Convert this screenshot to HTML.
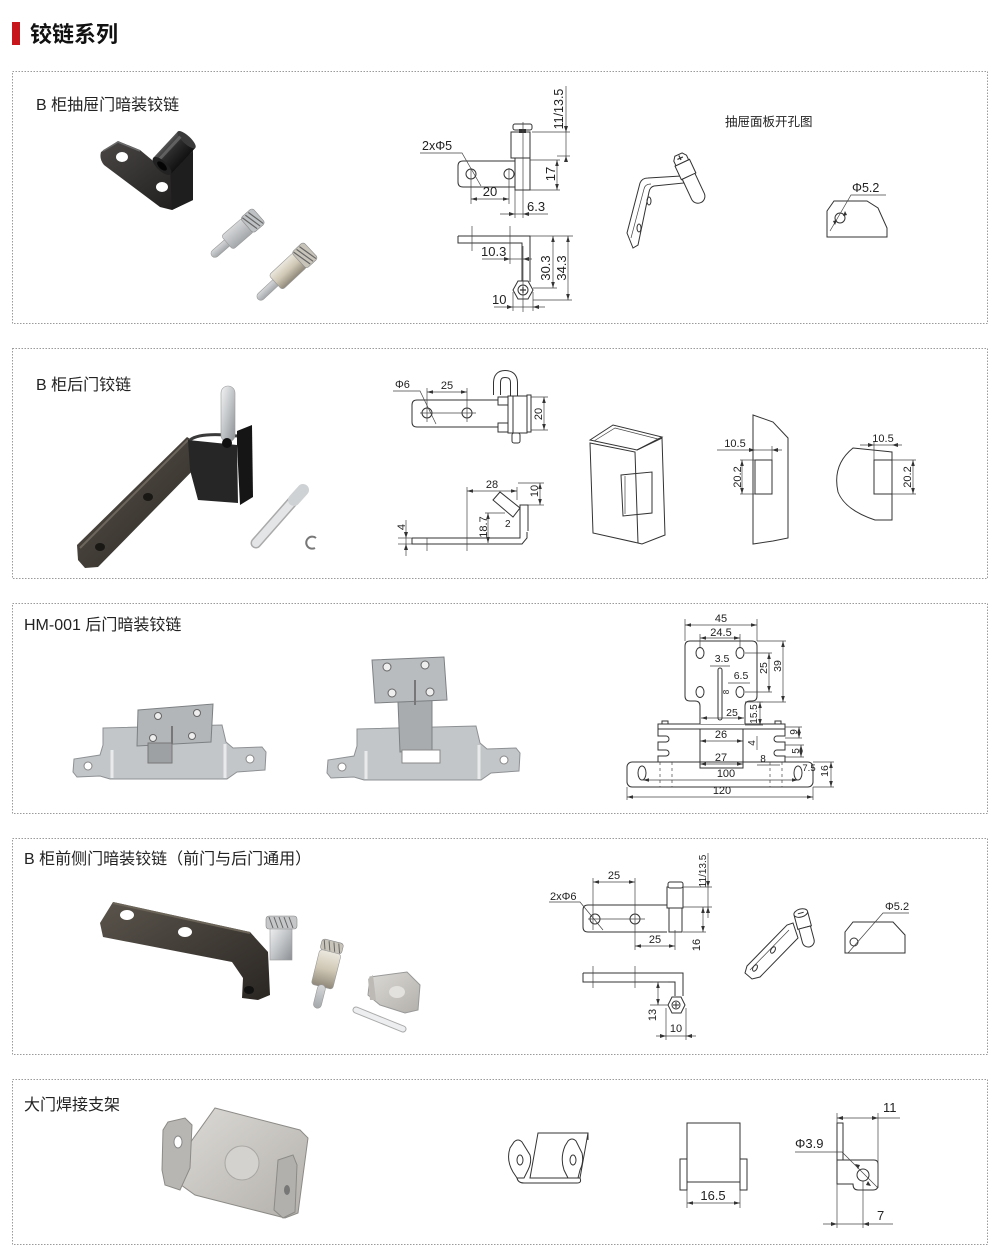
<!DOCTYPE html>
<html><head><meta charset="utf-8">
<style>
html,body{margin:0;padding:0;background:#fff;}
svg{display:block;}
text{font-family:"Liberation Sans","Noto Sans CJK SC",sans-serif;fill:#222;}
.d{fill:none;stroke:#333;stroke-width:1;}
.dt{fill:none;stroke:#444;stroke-width:0.7;}
.ar{fill:none;stroke:#444;stroke-width:0.7;marker-start:url(#a);marker-end:url(#a);}
.f{fill:#fff;stroke:#333;stroke-width:1;}
.bx{fill:none;stroke:#9a9a9a;stroke-width:1;stroke-dasharray:1.5 1.5;}
</style></head><body>
<svg width="1000" height="1248" viewBox="0 0 1000 1248">
<defs>
<marker id="a" viewBox="0 0 10 6" refX="10" refY="3" markerWidth="6" markerHeight="3.6" markerUnits="userSpaceOnUse" orient="auto-start-reverse"><path d="M0,0 L10,3 L0,6z" fill="#333"/></marker>
<linearGradient id="sv" x1="0" y1="0" x2="1" y2="1"><stop offset="0" stop-color="#f2f3f4"/><stop offset="0.5" stop-color="#c2c5c8"/><stop offset="1" stop-color="#8c9094"/></linearGradient>
<linearGradient id="sv2" x1="0" y1="0" x2="0" y2="1"><stop offset="0" stop-color="#d6d8da"/><stop offset="1" stop-color="#a4a7aa"/></linearGradient>
<linearGradient id="gd" x1="0" y1="0" x2="0" y2="1"><stop offset="0" stop-color="#ece8de"/><stop offset="0.5" stop-color="#cfc7b4"/><stop offset="1" stop-color="#8f887a"/></linearGradient>
<linearGradient id="dk" x1="0" y1="0" x2="1" y2="1"><stop offset="0" stop-color="#4a4745"/><stop offset="1" stop-color="#1c1b1a"/></linearGradient>
<linearGradient id="cy" x1="0" y1="0" x2="0" y2="1"><stop offset="0" stop-color="#555"/><stop offset="0.35" stop-color="#2c2c2c"/><stop offset="1" stop-color="#111"/></linearGradient>
<linearGradient id="br" x1="0" y1="0" x2="1" y2="1"><stop offset="0" stop-color="#5a544c"/><stop offset="1" stop-color="#2a2622"/></linearGradient>
<linearGradient id="pl" x1="0" y1="0" x2="1" y2="1"><stop offset="0" stop-color="#dcdad6"/><stop offset="1" stop-color="#b3b0ab"/></linearGradient>
</defs>

<!-- Title -->
<rect x="12" y="22" width="8" height="23" fill="#c8161d"/>
<text x="30" y="42" font-size="22" font-weight="bold" style="fill:#111">铰链系列</text>

<!-- Panels -->
<rect class="bx" x="12.5" y="71.5" width="975" height="252"/>
<rect class="bx" x="12.5" y="348.5" width="975" height="230"/>
<rect class="bx" x="12.5" y="603.5" width="975" height="210"/>
<rect class="bx" x="12.5" y="838.5" width="975" height="216"/>
<rect class="bx" x="12.5" y="1079.5" width="975" height="165"/>

<text x="36" y="110" font-size="16">B 柜抽屉门暗装铰链</text>
<text x="36" y="390" font-size="16">B 柜后门铰链</text>
<text x="24" y="630" font-size="16">HM-001 后门暗装铰链</text>
<text x="24" y="864" font-size="16">B 柜前侧门暗装铰链（前门与后门通用）</text>
<text x="24" y="1110" font-size="16">大门焊接支架</text>

<!-- ================= PANEL 1 ================= -->
<!-- photo: black bracket -->
<path d="M101,152 L118,141 L140,150 L158,165 L170,165 L193,150 L193,200 L172,210 L160,207 L104,165 Q99,159 101,152Z" fill="url(#dk)"/>
<path d="M170,167 L193,152 L193,200 L172,210Z" fill="#1e1e1e"/>
<path d="M103,151 L118,142 L140,151" stroke="#6a6a6a" stroke-width="1.5" fill="none"/>
<ellipse cx="122" cy="157" rx="6" ry="5" fill="#fff"/>
<ellipse cx="162" cy="187" rx="6" ry="5" fill="#fff"/>
<g transform="translate(162,166) rotate(-47)">
<rect x="0" y="-12" width="36" height="24" fill="url(#cy)"/>
<ellipse cx="36" cy="0" rx="4" ry="12" fill="#3a3a3a"/>
<rect x="4" y="-8" width="30" height="3" fill="#6a6a6a" opacity="0.8"/>
<ellipse cx="0" cy="0" rx="5" ry="12" fill="#222"/>
<ellipse cx="0" cy="0" rx="3" ry="6" fill="#050505"/>
</g>
<!-- pin 1 -->
<g transform="translate(212,256) rotate(-41)">
<rect x="0" y="-4" width="24" height="8" rx="4" fill="url(#sv2)" stroke="#999" stroke-width="0.6"/>
<rect x="20" y="-9" width="28" height="18" rx="3" fill="url(#sv2)" stroke="#999" stroke-width="0.6"/>
<rect x="46" y="-10" width="16" height="20" rx="3" fill="#bfc2c4" stroke="#888" stroke-width="0.6"/>
<path d="M48,-9 L52,9 M52,-9 L56,9 M56,-9 L60,9" stroke="#666" stroke-width="1.2"/>
</g>
<!-- pin 2 -->
<g transform="translate(258,299) rotate(-43)">
<rect x="0" y="-4" width="28" height="8" rx="4" fill="url(#sv2)" stroke="#999" stroke-width="0.6"/>
<rect x="24" y="-10" width="34" height="20" rx="3" fill="url(#gd)" stroke="#999" stroke-width="0.6"/>
<rect x="56" y="-11" width="16" height="22" rx="3" fill="#c8c4ba" stroke="#888" stroke-width="0.6"/>
<path d="M58,-10 L62,10 M62,-10 L66,10 M66,-10 L70,10" stroke="#666" stroke-width="1.2"/>
</g>

<!-- drawing top view -->
<path class="d" d="M515,161 H463 Q458,161 458,166 V182 Q458,187 463,187 H515"/>
<circle class="d" cx="471" cy="174" r="5"/>
<circle class="d" cx="509" cy="174" r="5"/>
<rect class="f" x="515" y="157" width="15" height="33"/>
<rect class="f" x="511" y="132" width="19" height="26"/>
<rect x="513" y="124" width="19" height="6" rx="2" fill="#fff" stroke="#333"/>
<rect x="519" y="129" width="7" height="4" fill="#333"/>
<line class="dt" x1="523" y1="122" x2="523" y2="218"/>
<line class="dt" x1="471" y1="168" x2="471" y2="204"/>
<line class="dt" x1="509" y1="168" x2="509" y2="204"/>
<line class="ar" x1="471" y1="199" x2="509" y2="199"/>
<text x="490" y="196" font-size="13" text-anchor="middle">20</text>
<text x="422" y="150" font-size="12.5">2xΦ5</text>
<polyline class="dt" points="420,153 462,153 481,186"/>
<line class="dt" x1="515" y1="190" x2="515" y2="218"/>
<line class="dt" x1="500" y1="214" x2="548" y2="214"/>
<path d="M515,214 l-6,-2 v4z M523,214 l6,-2 v4z" fill="#333"/>
<text x="527" y="211" font-size="13">6.3</text>
<line class="dt" x1="530" y1="160" x2="560" y2="160"/>
<line class="dt" x1="530" y1="190" x2="560" y2="190"/>
<line class="ar" x1="557" y1="160" x2="557" y2="190"/>
<text transform="translate(555,174) rotate(-90)" font-size="13" text-anchor="middle">17</text>
<line class="dt" x1="532" y1="132" x2="570" y2="132"/>
<line class="dt" x1="557" y1="156" x2="570" y2="156"/>
<line class="dt" x1="566" y1="86" x2="566" y2="158"/>
<path d="M566,132 l-2,-6 h4z M566,156 l-2,6 h4z" fill="#333"/>
<text transform="translate(563,109) rotate(-90)" font-size="12.5" text-anchor="middle">11/13.5</text>

<!-- side view -->
<path class="d" d="M458,236 H530 V282 M458,236 V243 H522 V282"/>
<polygon class="f" points="513,290 518,281 528,281 533,290 528,299 518,299"/>
<circle class="d" cx="523" cy="290" r="5"/>
<path d="M520,290 h6 M523,287 v6" stroke="#333" stroke-width="1.2"/>
<line class="dt" x1="472" y1="226" x2="472" y2="251"/>
<line class="dt" x1="510" y1="226" x2="510" y2="264"/>
<line class="dt" x1="523" y1="246" x2="523" y2="312"/>
<line class="dt" x1="482" y1="259" x2="532" y2="259"/>
<path d="M510,259 l-6,-2 v4z M523,259 l6,-2 v4z" fill="#333"/>
<text x="481" y="256" font-size="13">10.3</text>
<line class="dt" x1="530" y1="236" x2="573" y2="236"/>
<line class="dt" x1="533" y1="288" x2="557" y2="288"/>
<line class="dt" x1="533" y1="300" x2="572" y2="300"/>
<line class="ar" x1="553" y1="236" x2="553" y2="288"/>
<line class="ar" x1="568" y1="236" x2="568" y2="300"/>
<text transform="translate(550,268) rotate(-90)" font-size="13" text-anchor="middle">30.3</text>
<text transform="translate(566,268) rotate(-90)" font-size="13" text-anchor="middle">34.3</text>
<line class="dt" x1="513" y1="292" x2="513" y2="311"/>
<line class="dt" x1="533" y1="292" x2="533" y2="311"/>
<line class="dt" x1="494" y1="307" x2="545" y2="307"/>
<path d="M513,307 l-6,-2 v4z M533,307 l6,-2 v4z" fill="#333"/>
<text x="492" y="304" font-size="13">10</text>

<!-- perspective sketch -->
<text x="725" y="126" font-size="12.5">抽屉面板开孔图</text>
<path class="d" d="M633,248 L627,233 L640,183 Q642,178 648,178 L681,176 L684,183 L654,186 Q650,187 649,192 L638,245 Z"/>
<path class="dt" d="M631,238 L644,189 Q645,184 651,184"/>
<ellipse class="d" cx="649" cy="201" rx="2" ry="4"/>
<ellipse class="d" cx="639" cy="228" rx="2" ry="4"/>
<g transform="translate(681,160) rotate(-25)">
<rect class="f" x="-8" y="3" width="16" height="15"/>
<path class="f" d="M-7,18 V40 A7,7 0 0 0 7,40 V18 Z"/>
<polygon class="f" points="-7,-2 -4,-6 4,-6 7,-2 7,3 -7,3"/>
<path d="M-3,-2 h6 M0,-5 v5" stroke="#333" stroke-width="1.2"/>
</g>
<!-- hole sketch -->
<path class="d" d="M827,237 V211 L834,201 H867 L878,208 L887,228 V237 Z"/>
<circle class="d" cx="840" cy="218" r="5"/>
<text x="852" y="192" font-size="12.5">Φ5.2</text>
<polyline class="dt" points="886,195 851,195 830,231"/>
<path d="M845,211 l-2,5 l4,-1z M835,225 l2,-5 l-4,1z" fill="#333"/>

<!-- ================= PANEL 2 ================= -->
<!-- photo -->
<path d="M77,545 L187,437 L203,447 L205,458 L98,567 L85,568 L78,560Z" fill="url(#br)"/>
<path d="M80,548 L188,440" stroke="#6d665d" stroke-width="2"/>
<ellipse cx="148" cy="497" rx="5" ry="4" fill="#1a1815"/>
<ellipse cx="100" cy="547" rx="5" ry="4" fill="#1a1815"/>
<path d="M188,440 L237,445 L238,503 L198,500 L190,470Z" fill="#262626"/>
<path d="M237,431 L252,425 L253,497 L240,505 L237,445Z" fill="#151515"/>
<path d="M190,440 Q200,432 237,436" stroke="#3a3a3a" stroke-width="3" fill="none"/>
<rect x="221" y="386" width="14" height="56" rx="7" fill="url(#sv)" stroke="#999" stroke-width="0.6"/>
<circle cx="227" cy="443" r="5" fill="#0f0f0f"/>
<line x1="256" y1="543" x2="300" y2="493" stroke="#aaa" stroke-width="11" stroke-linecap="round"/>
<line x1="256" y1="543" x2="300" y2="493" stroke="#e3e5e7" stroke-width="8" stroke-linecap="round"/>
<line x1="294" y1="500" x2="303" y2="490" stroke="#cfd2d4" stroke-width="12" stroke-linecap="round"/>
<path d="M316,538 A6,6 0 1 0 315,548" stroke="#777" stroke-width="2" fill="none"/>

<!-- drawing top view -->
<path class="d" d="M503,400 H417 Q412,400 412,405 V422 Q412,427 417,427 H503"/>
<circle class="d" cx="427" cy="413" r="5"/>
<circle class="d" cx="467" cy="413" r="5"/>
<line class="dt" x1="427" y1="388" x2="427" y2="422"/>
<line class="dt" x1="467" y1="388" x2="467" y2="422"/>
<line class="dt" x1="420" y1="413" x2="476" y2="413"/>
<path d="M497,395 V383 Q497,374 505,374 Q514,374 514,383 V397" fill="none" stroke="#333" stroke-width="8"/>
<path d="M497,395 V383 Q497,374 505,374 Q514,374 514,383 V397" fill="none" stroke="#fff" stroke-width="6"/>
<rect class="f" x="498" y="397" width="10" height="8"/>
<rect class="f" x="498" y="423" width="10" height="9"/>
<rect class="f" x="508" y="396" width="19" height="37"/>
<rect class="f" x="513" y="396" width="14" height="37"/>
<rect class="f" x="527" y="395" width="4" height="37"/>
<rect class="f" x="512" y="433" width="8" height="10" rx="2"/>
<text x="395" y="388" font-size="11">Φ6</text>
<polyline class="dt" points="393,391 420,391 436,424"/>
<line class="ar" x1="427" y1="392" x2="467" y2="392"/>
<text x="447" y="389" font-size="11" text-anchor="middle">25</text>
<line class="dt" x1="531" y1="397" x2="548" y2="397"/>
<line class="dt" x1="531" y1="430" x2="548" y2="430"/>
<line class="ar" x1="544" y1="397" x2="544" y2="430"/>
<text transform="translate(542,414) rotate(-90)" font-size="11" text-anchor="middle">20</text>

<!-- side view -->
<path class="d" d="M412,538 H520 V505 H528 V531 M412,538 V544 H522 L527,538 V532"/>
<polygon class="f" points="493,500 500,492 520,508 513,517"/>
<line class="dt" x1="467" y1="487" x2="467" y2="551"/>
<line class="dt" x1="427" y1="538" x2="427" y2="551"/>
<line class="dt" x1="517" y1="487" x2="517" y2="500"/>
<line class="ar" x1="467" y1="491" x2="517" y2="491"/>
<text x="492" y="488" font-size="11" text-anchor="middle">28</text>
<line class="dt" x1="528" y1="505" x2="544" y2="505"/>
<line class="dt" x1="518" y1="483" x2="544" y2="483"/>
<line class="ar" x1="540" y1="483" x2="540" y2="505"/>
<text transform="translate(538,491) rotate(-90)" font-size="11" text-anchor="middle">10</text>
<line class="dt" x1="485" y1="513" x2="505" y2="513"/>
<line class="ar" x1="488" y1="513" x2="488" y2="543"/>
<text transform="translate(487,527) rotate(-90)" font-size="11" text-anchor="middle">18.7</text>
<text x="505" y="527" font-size="10">2</text>
<line class="dt" x1="398" y1="538" x2="412" y2="538"/>
<line class="dt" x1="398" y1="544" x2="412" y2="544"/>
<line class="dt" x1="406" y1="520" x2="406" y2="556"/>
<path d="M406,538 l-2,-6 h4z M406,544 l-2,6 h4z" fill="#333"/>
<text transform="translate(405,527) rotate(-90)" font-size="11" text-anchor="middle">4</text>

<!-- 3D box -->
<path class="d" d="M590,440 L613,425 L662,437 L637,450 Z"/>
<path class="d" d="M590,443 L635,452 L638,543 L593,533 Z"/>
<path class="d" d="M637,450 L662,438 L665,535 L642,544 L638,543"/>
<path class="dt" d="M594,441 L615,428 L658,439"/>
<path class="d" d="M621,475 L652,472 L652,513 L623,516 Z"/>
<path class="dt" d="M625,476 V514"/>
<!-- panel view 2 -->
<path class="d" d="M753,415 L773,422 L788,438 V538 L773,541 L753,544 Z"/>
<rect class="d" x="755" y="460" width="17" height="34"/>
<line class="dt" x1="772" y1="446" x2="772" y2="460"/>
<line class="dt" x1="717" y1="450" x2="782" y2="450"/>
<path d="M755,450 l-6,-2 v4z M772,450 l6,-2 v4z" fill="#333"/>
<text x="735" y="447" font-size="11" text-anchor="middle">10.5</text>
<line class="dt" x1="740" y1="460" x2="755" y2="460"/>
<line class="dt" x1="740" y1="494" x2="755" y2="494"/>
<line class="ar" x1="742" y1="460" x2="742" y2="494"/>
<text transform="translate(741,477) rotate(-90)" font-size="11" text-anchor="middle">20.2</text>
<!-- panel view 3 -->
<path class="d" d="M853,448 L892,452 V520 H875 Q845,510 838,492 Q832,465 853,448 Z"/>
<rect class="d" x="874" y="460" width="18" height="34"/>
<line class="dt" x1="874" y1="442" x2="874" y2="460"/>
<line class="dt" x1="860" y1="445" x2="902" y2="445"/>
<path d="M874,445 l-6,-2 v4z M892,445 l6,-2 v4z" fill="#333"/>
<text x="883" y="442" font-size="11" text-anchor="middle">10.5</text>
<line class="dt" x1="892" y1="460" x2="916" y2="460"/>
<line class="dt" x1="892" y1="494" x2="916" y2="494"/>
<line class="ar" x1="913" y1="460" x2="913" y2="494"/>
<text transform="translate(911,477) rotate(-90)" font-size="11" text-anchor="middle">20.2</text>

<!-- ================= PANEL 3 ================= -->
<!-- photo 1 -->
<path d="M103,728 L222,725 L226,742 L233,748 L262,747 L266,752 L265,770 L237,772 L227,779 L110,779 L100,776 L77,777 L73,772 L74,759 L100,755 L103,745Z" fill="#c3c6c9" stroke="#8e9194"/>
<path d="M112,750 V778 M225,744 V778" stroke="#e8eaeb" stroke-width="3"/>
<circle cx="88" cy="766" r="4" fill="#fff" stroke="#888"/>
<circle cx="250" cy="759" r="4" fill="#fff" stroke="#888"/>
<polygon points="138,710 213,704 211,742 137,746" fill="#b3b6b9" stroke="#7d8083"/>
<circle cx="158" cy="716" r="3.5" fill="#eee" stroke="#666"/>
<circle cx="197" cy="713" r="3.5" fill="#eee" stroke="#666"/>
<circle cx="153" cy="738" r="3.5" fill="#eee" stroke="#666"/>
<circle cx="192" cy="736" r="3.5" fill="#eee" stroke="#666"/>
<rect x="148" y="743" width="24" height="20" fill="#9ea1a4" stroke="#777"/>
<line x1="172" y1="726" x2="172" y2="744" stroke="#777" stroke-width="2"/>
<!-- photo 2 -->
<path d="M357,729 L476,726 L480,743 L487,749 L516,748 L520,753 L519,771 L491,773 L481,780 L364,780 L354,777 L331,778 L327,773 L328,760 L354,756 L357,746Z" fill="#c3c6c9" stroke="#8e9194"/>
<path d="M366,751 V779 M479,745 V779" stroke="#e8eaeb" stroke-width="3"/>
<circle cx="342" cy="767" r="4" fill="#fff" stroke="#888"/>
<circle cx="504" cy="760" r="4" fill="#fff" stroke="#888"/>
<polygon points="398,702 432,700 432,750 400,752" fill="#a9acaf" stroke="#7d8083"/>
<polygon points="372,660 444,657 447,700 375,703" fill="#b9bcbf" stroke="#7d8083"/>
<circle cx="387" cy="667" r="4" fill="#eee" stroke="#666"/>
<circle cx="425" cy="665" r="4" fill="#eee" stroke="#666"/>
<circle cx="392" cy="693" r="4" fill="#eee" stroke="#666"/>
<circle cx="430" cy="692" r="4" fill="#eee" stroke="#666"/>
<line x1="415" y1="680" x2="415" y2="705" stroke="#777" stroke-width="2"/>
<rect x="402" y="750" width="38" height="13" fill="#fff" stroke="#888"/>

<!-- drawing -->
<rect class="d" x="627" y="762" width="186" height="25" rx="5"/>
<ellipse class="d" cx="642" cy="773" rx="4" ry="7"/>
<ellipse class="d" cx="798" cy="773" rx="4" ry="7"/>
<path class="dt" stroke-dasharray="3 3" d="M660,762 V787 M672,762 V787 M770,762 V787 M782,762 V787"/>
<path class="d" d="M658,729 V736 H666 A3,3 0 0 1 666,742 H658 V750 H666 A3,3 0 0 1 666,756 H658 V762"/>
<path class="d" d="M785,729 V736 H777 A3,3 0 0 0 777,742 H785 V750 H777 A3,3 0 0 0 777,756 H785 V762"/>
<rect class="d" x="658" y="724" width="127" height="5"/>
<rect class="f" x="662" y="721" width="6" height="3"/>
<rect class="f" x="775" y="721" width="6" height="3"/>
<rect class="d" x="700" y="729" width="43" height="39"/>
<path class="f" d="M700,724 V706 Q700,701 695,701 H690 Q685,701 685,696 V646 Q685,641 690,641 H752 Q757,641 757,646 V696 Q757,701 752,701 H750 Q745,701 745,706 V724"/>
<ellipse class="d" cx="700" cy="653" rx="4" ry="5.5"/>
<ellipse class="d" cx="740" cy="653" rx="4" ry="5.5"/>
<ellipse class="d" cx="700" cy="692" rx="4" ry="5.5"/>
<ellipse class="d" cx="740" cy="692" rx="4" ry="5.5"/>
<rect class="d" x="718" y="668" width="4" height="52" rx="2"/>
<!-- dims -->
<line class="dt" x1="685" y1="619" x2="685" y2="641"/>
<line class="dt" x1="757" y1="619" x2="757" y2="641"/>
<line class="ar" x1="685" y1="625" x2="757" y2="625"/>
<text x="721" y="622" font-size="11" text-anchor="middle">45</text>
<line class="dt" x1="700" y1="634" x2="700" y2="648"/>
<line class="dt" x1="740" y1="634" x2="740" y2="648"/>
<line class="ar" x1="700" y1="638" x2="740" y2="638"/>
<text x="721" y="636" font-size="11" text-anchor="middle">24.5</text>
<text x="722" y="662" font-size="10.5" text-anchor="middle">3.5</text>
<line class="dt" x1="710" y1="666" x2="730" y2="666"/>
<text x="741" y="679" font-size="10.5" text-anchor="middle">6.5</text>
<line class="dt" x1="728" y1="683" x2="750" y2="683"/>
<text transform="translate(729,692) rotate(-90)" font-size="8" text-anchor="middle">8</text>
<text x="732" y="716" font-size="10.5" text-anchor="middle">25</text>
<line class="ar" x1="701" y1="718" x2="744" y2="718"/>
<line class="dt" x1="745" y1="702" x2="763" y2="702"/>
<line class="dt" x1="745" y1="725" x2="763" y2="725"/>
<line class="ar" x1="760" y1="702" x2="760" y2="725"/>
<text transform="translate(757,714) rotate(-90)" font-size="10" text-anchor="middle">15.5</text>
<line class="dt" x1="745" y1="653" x2="772" y2="653"/>
<line class="dt" x1="745" y1="692" x2="772" y2="692"/>
<line class="ar" x1="769" y1="653" x2="769" y2="692"/>
<text transform="translate(767,668) rotate(-90)" font-size="10.5" text-anchor="middle">25</text>
<line class="dt" x1="757" y1="641" x2="786" y2="641"/>
<line class="dt" x1="757" y1="702" x2="786" y2="702"/>
<line class="ar" x1="783" y1="641" x2="783" y2="702"/>
<text transform="translate(781,666) rotate(-90)" font-size="10.5" text-anchor="middle">39</text>
<line class="ar" x1="700" y1="741" x2="743" y2="741"/>
<text x="721" y="738" font-size="11" text-anchor="middle">26</text>
<line class="ar" x1="700" y1="764" x2="743" y2="764"/>
<text x="721" y="761" font-size="11" text-anchor="middle">27</text>
<line class="ar" x1="643" y1="780" x2="798" y2="780"/>
<text x="726" y="777" font-size="11" text-anchor="middle">100</text>
<line class="dt" x1="627" y1="787" x2="627" y2="800"/>
<line class="dt" x1="813" y1="787" x2="813" y2="800"/>
<line class="ar" x1="627" y1="797" x2="813" y2="797"/>
<text x="722" y="794" font-size="11" text-anchor="middle">120</text>
<line class="dt" x1="785" y1="727" x2="802" y2="727"/>
<line class="dt" x1="785" y1="738" x2="802" y2="738"/>
<line class="ar" x1="799" y1="727" x2="799" y2="738"/>
<text transform="translate(797,732) rotate(-90)" font-size="10" text-anchor="middle">9</text>
<line class="dt" x1="757" y1="736" x2="757" y2="750"/>
<text transform="translate(755,743) rotate(-90)" font-size="10" text-anchor="middle">4</text>
<line class="dt" x1="785" y1="745" x2="804" y2="745"/>
<line class="dt" x1="785" y1="757" x2="804" y2="757"/>
<line class="ar" x1="801" y1="745" x2="801" y2="757"/>
<text transform="translate(799,751) rotate(-90)" font-size="10" text-anchor="middle">5</text>
<text x="763" y="762" font-size="10" text-anchor="middle">8</text>
<line class="dt" x1="757" y1="765" x2="780" y2="765"/>
<text x="809" y="771" font-size="9.5" text-anchor="middle">7.5</text>
<line class="dt" x1="813" y1="762" x2="834" y2="762"/>
<line class="dt" x1="813" y1="787" x2="834" y2="787"/>
<line class="ar" x1="831" y1="762" x2="831" y2="787"/>
<text transform="translate(828,771) rotate(-90)" font-size="10.5" text-anchor="middle">16</text>

<!-- ================= PANEL 4 ================= -->
<!-- photo -->
<path d="M100,923 L113,902 L250,932 L268,952 L270,995 L258,1000 L242,998 L243,978 L232,962 L103,937Z" fill="url(#br)"/>
<path d="M113,903 L250,933" stroke="#6b6459" stroke-width="2"/>
<ellipse cx="127" cy="915" rx="7" ry="5" fill="#fff"/>
<ellipse cx="185" cy="932" rx="7" ry="5" fill="#fff"/>
<ellipse cx="249" cy="990" rx="5" ry="4" fill="#111"/>
<rect x="270" y="925" width="22" height="35" fill="url(#sv)" stroke="#999" stroke-width="0.6"/>
<rect x="266" y="916" width="31" height="13" rx="3" fill="#c5c7c9" stroke="#888" stroke-width="0.6"/>
<path d="M269,917 l4,11 M274,917 l4,11 M279,917 l4,11 M284,917 l4,11 M289,917 l4,11" stroke="#666"/>
<g transform="translate(332,946) rotate(14)">
<rect x="-11" y="-5" width="22" height="11" rx="3" fill="#c8c4ba" stroke="#888" stroke-width="0.6"/>
<path d="M-9,-4 l3,9 M-4,-4 l3,9 M1,-4 l3,9 M6,-4 l3,9" stroke="#666"/>
<rect x="-11" y="6" width="22" height="36" rx="3" fill="url(#gd)" stroke="#999" stroke-width="0.6"/>
<rect x="-4" y="40" width="8" height="24" rx="4" fill="url(#sv2)" stroke="#999" stroke-width="0.6"/>
</g>
<path d="M370,977 L407,972 L420,985 L418,1010 L405,1013 L380,1005 L368,995Z" fill="url(#pl)" stroke="#999"/>
<path d="M368,979 L373,975 L376,1000 L370,1000Z" fill="#bdbab5"/>
<ellipse cx="397" cy="992" rx="8" ry="6" fill="#e3e1dd"/>
<line x1="356" y1="1010" x2="403" y2="1029" stroke="#aaa" stroke-width="7" stroke-linecap="round"/>
<line x1="356" y1="1010" x2="403" y2="1029" stroke="#eceef0" stroke-width="5" stroke-linecap="round"/>

<!-- drawing top view -->
<path class="d" d="M667,905 H588 Q583,905 583,910 V927 Q583,932 588,932 H667"/>
<circle class="d" cx="595" cy="919" r="5"/>
<circle class="d" cx="635" cy="919" r="5"/>
<line class="dt" x1="593" y1="878" x2="593" y2="930"/>
<line class="dt" x1="635" y1="878" x2="635" y2="950"/>
<line class="dt" x1="588" y1="919" x2="645" y2="919"/>
<rect class="f" x="669" y="907" width="13" height="25"/>
<rect class="f" x="667" y="887" width="16" height="21"/>
<rect x="668" y="882" width="15" height="6" rx="2" fill="#fff" stroke="#333"/>
<line class="dt" x1="675" y1="930" x2="675" y2="950"/>
<line class="ar" x1="593" y1="882" x2="635" y2="882"/>
<text x="614" y="879" font-size="11" text-anchor="middle">25</text>
<text x="550" y="900" font-size="11">2xΦ6</text>
<polyline class="dt" points="549,902 580,902 603,930"/>
<line class="ar" x1="635" y1="946" x2="675" y2="946"/>
<text x="655" y="943" font-size="11" text-anchor="middle">25</text>
<line class="dt" x1="683" y1="887" x2="712" y2="887"/>
<line class="dt" x1="683" y1="907" x2="712" y2="907"/>
<line class="dt" x1="683" y1="932" x2="706" y2="932"/>
<line class="dt" x1="708" y1="853" x2="708" y2="918"/>
<path d="M708,887 l-2,-6 h4z M708,907 l-2,6 h4z" fill="#333"/>
<text transform="translate(706,871) rotate(-90)" font-size="10" text-anchor="middle">11/13.5</text>
<line class="ar" x1="703" y1="907" x2="703" y2="932"/>
<text transform="translate(700,945) rotate(-90)" font-size="11" text-anchor="middle">16</text>
<!-- side view -->
<path class="d" d="M583,973 H683 V996 M583,973 V982 H675 V996"/>
<polygon class="f" points="668,1005 672,997 681,997 685,1005 681,1013 672,1013"/>
<circle class="d" cx="676" cy="1005" r="4"/>
<path d="M673,1005 h6 M676,1002 v6" stroke="#333"/>
<line class="dt" x1="593" y1="966" x2="593" y2="988"/>
<line class="dt" x1="635" y1="966" x2="635" y2="988"/>
<line class="dt" x1="653" y1="982" x2="668" y2="982"/>
<line class="dt" x1="650" y1="1005" x2="668" y2="1005"/>
<line class="ar" x1="658" y1="982" x2="658" y2="1005"/>
<text transform="translate(656,1015) rotate(-90)" font-size="11" text-anchor="middle">13</text>
<line class="dt" x1="666" y1="1008" x2="666" y2="1040"/>
<line class="dt" x1="686" y1="1008" x2="686" y2="1040"/>
<line class="dt" x1="656" y1="1036" x2="696" y2="1036"/>
<path d="M666,1036 l-6,-2 v4z M686,1036 l6,-2 v4z" fill="#333"/>
<text x="676" y="1032" font-size="11" text-anchor="middle">10</text>
<!-- sketch -->
<path class="d" d="M747,966 L787,925 L793,923 L798,938 L760,977 L752,979 L745,973 Z"/>
<path class="dt" d="M750,970 L789,930"/>
<ellipse class="d" cx="755" cy="968" rx="2" ry="3.5" transform="rotate(30 755 968)"/>
<ellipse class="d" cx="773" cy="950" rx="2" ry="3.5" transform="rotate(30 773 950)"/>
<g transform="translate(801,914) rotate(-15)">
<rect class="f" x="-7" y="0" width="14" height="14"/>
<path class="f" d="M-6,14 V28 A6,6 0 0 0 6,28 V14Z"/>
<ellipse class="f" cx="0" cy="-1" rx="7" ry="4"/>
<path d="M-3,-1 h6" stroke="#333"/>
</g>
<path class="d" d="M845,953 V932 L853,922 H893 L905,935 V953 Z"/>
<circle class="d" cx="854" cy="942" r="4"/>
<text x="885" y="910" font-size="11">Φ5.2</text>
<polyline class="dt" points="909,913 883,913 848,953"/>

<!-- ================= PANEL 5 ================= -->
<!-- photo -->
<path d="M215,1108 L300,1130 L308,1138 L298,1213 L285,1218 L195,1195 L177,1182 L185,1150Z" fill="url(#pl)" stroke="#8d8b87"/>
<circle cx="242" cy="1163" r="17" fill="#d4d2ce" stroke="#a9a7a3"/>
<path d="M168,1122 L185,1118 L192,1125 L190,1168 L180,1190 L165,1185 L162,1170 L163,1130Z" fill="#b8b6b2" stroke="#8d8b87"/>
<ellipse cx="178" cy="1142" rx="4" ry="6" fill="#fff" stroke="#888"/>
<path d="M278,1160 L293,1155 L297,1165 L295,1212 L283,1218 L274,1210Z" fill="#b2b0ac" stroke="#8d8b87"/>
<ellipse cx="287" cy="1190" rx="3" ry="5" fill="#777"/>

<!-- sketch 1 -->
<path class="d" d="M538,1133 H588 L580,1178 H530 Z"/>
<path class="d" d="M588,1133 V1140"/>
<path class="d" d="M517,1178 L513,1172 Q506,1160 510,1148 L514,1142 Q518,1138 522,1142 L530,1155 Q532,1162 528,1170 L524,1178 Z"/>
<ellipse class="d" cx="520" cy="1160" rx="3" ry="5"/>
<path class="d" d="M568,1178 L564,1170 Q560,1158 565,1146 L568,1141 Q572,1137 576,1141 L582,1153 Q584,1162 580,1170 L578,1178 Z"/>
<ellipse class="d" cx="573" cy="1160" rx="3" ry="5"/>
<path class="d" d="M517,1178 Q518,1183 524,1183 H577 Q582,1183 580,1178"/>
<!-- sketch 2 -->
<rect class="d" x="687" y="1123" width="53" height="59"/>
<rect class="d" x="680" y="1159" width="7" height="31"/>
<rect class="d" x="740" y="1159" width="7" height="31"/>
<line class="dt" x1="687" y1="1190" x2="687" y2="1208"/>
<line class="dt" x1="740" y1="1190" x2="740" y2="1208"/>
<line class="ar" x1="687" y1="1203" x2="740" y2="1203"/>
<text x="713" y="1200" font-size="13" text-anchor="middle">16.5</text>
<!-- sketch 3 -->
<rect class="d" x="837" y="1123" width="6" height="37"/>
<path class="d" d="M837,1160 H874 Q878,1160 878,1164 V1185 Q878,1190 873,1190 H858 Q853,1190 853,1184 H837 Z"/>
<circle class="d" cx="863" cy="1175" r="6"/>
<line class="dt" x1="837" y1="1113" x2="837" y2="1123"/>
<line class="dt" x1="878" y1="1113" x2="878" y2="1188"/>
<line class="dt" x1="837" y1="1118" x2="900" y2="1118"/>
<path d="M837,1118 l6,-2 v4z M878,1118 l-6,-2 v4z" fill="#333"/>
<text x="883" y="1112" font-size="13">11</text>
<text x="795" y="1148" font-size="13">Φ3.9</text>
<polyline class="dt" points="795,1152 842,1152 878,1188"/>
<path d="M858,1169 l-3,-5 l5,1z M868,1181 l3,5 l-5,-1z" fill="#333"/>
<line class="dt" x1="837" y1="1184" x2="837" y2="1228"/>
<line class="dt" x1="863" y1="1181" x2="863" y2="1228"/>
<line class="dt" x1="823" y1="1224" x2="893" y2="1224"/>
<path d="M837,1224 l-6,-2 v4z M863,1224 l6,-2 v4z" fill="#333"/>
<text x="877" y="1220" font-size="13">7</text>
</svg>
</body></html>
